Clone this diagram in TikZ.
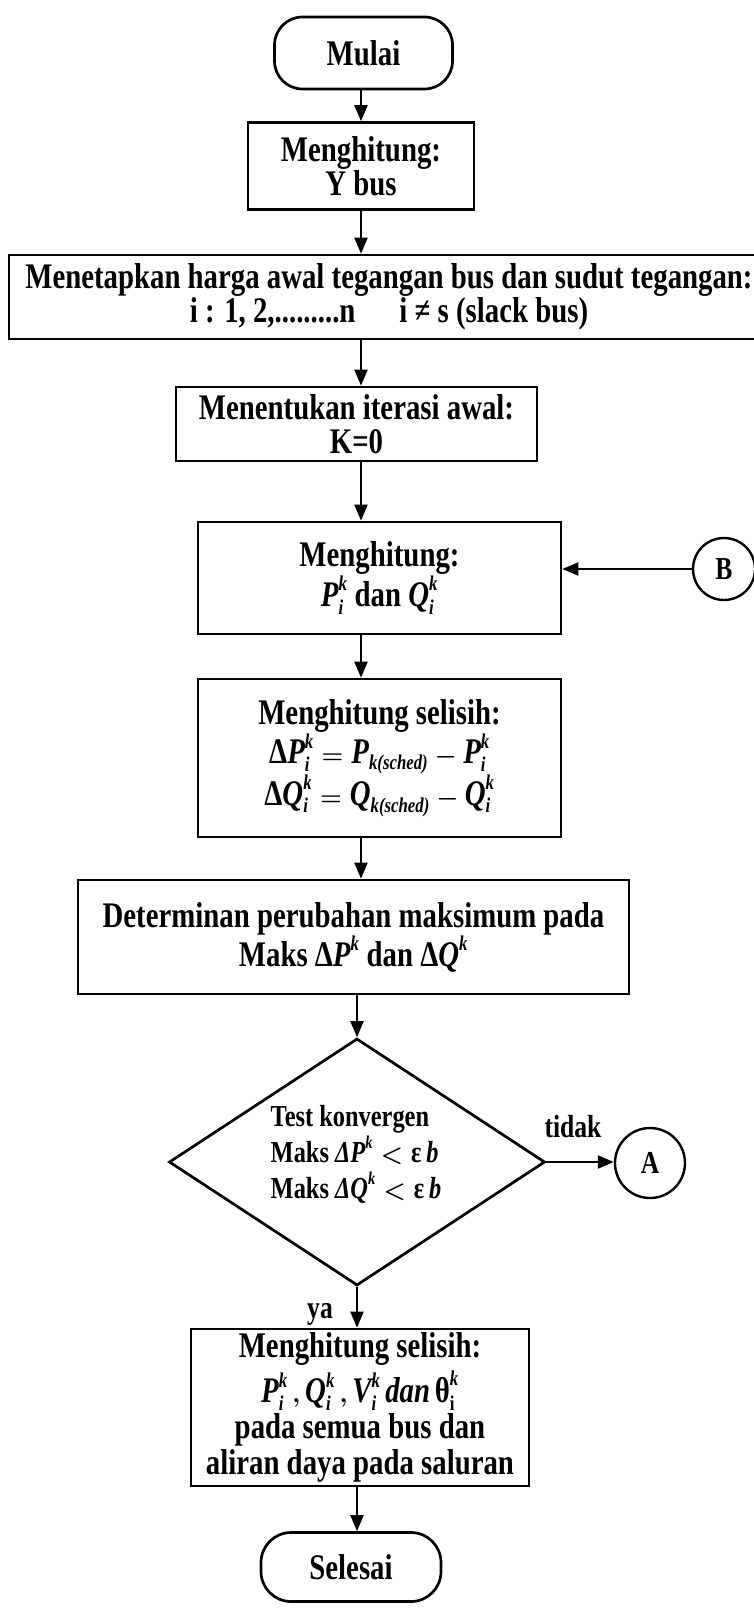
\documentclass[tikz,border=0pt]{standalone}
\usepackage{amsmath}
\usepackage{fontspec}
\setmainfont{Liberation Serif}[FakeStretch=0.80]
\usetikzlibrary{arrows.meta,shapes.geometric}
\DeclareMathSizes{36}{36}{21}{15}
\DeclareMathSizes{30.5}{30.5}{18}{13}
\newcommand\vr[3]{\textit{#1}_{\textit{#2}}^{\textit{#3}}}
\newcommand\mfont[1]{\fontsize{36}{#1}\selectfont\bfseries\boldmath}
\newcommand\decfnt{\fontsize{30.5}{36}\selectfont\bfseries\boldmath}
\newcommand\lblfnt{\fontsize{32}{32}\selectfont\bfseries}
\begin{document}
\begin{tikzpicture}[x=1pt,y=-1pt,
  box/.style={draw,line width=2.7pt,inner sep=0pt,align=center,font={\mfont{34}}},
  term/.style={box,rounded corners=28pt},
  circ/.style={draw,circle,line width=2.4pt,inner sep=0pt,font=\lblfnt},
  arr/.style={line width=2.2pt,-{Triangle[length=16pt,width=13pt]}}]
\useasboundingbox (0,0) rectangle (754,1613);
\coordinate (ax) at (361,0);
\coordinate (bx) at (357,0);
\node[term,minimum width=178pt,minimum height=72pt] (mulai) at (363.5,53) {Mulai};
\node[box,minimum width=226pt,minimum height=87pt] (ybus) at (361,166) {Menghitung:\\Y bus};
\node[box,minimum width=760pt,minimum height=84pt] (awal) at (389,297) {Menetapkan harga awal tegangan bus dan sudut tegangan:\\ i : 1, 2,.........n\hspace{44pt}i ≠ s (slack bus)};
\node[box,minimum width=361pt,minimum height=74pt] (iter) at (356.5,424) {Menentukan iterasi awal:\\K=0};
\node[box,font={\mfont{35}},minimum width=363pt,minimum height=112pt] (pq) at (379.5,578) {Menghitung:\\ $\vr Pik$ dan $\vr Qik$};
\node[box,font={\mfont{36}},minimum width=363pt,minimum height=158pt] (sel) at (379.5,758) {Menghitung selisih:\\ $\text{Δ}\vr Pik = \textit{P}_{\textit{k(sched)}} - \vr Pik$\\ $\text{Δ}\vr Qik = \textit{Q}_{\textit{k(sched)}} - \vr Qik$};
\node[box,font={\mfont{37}},minimum width=551pt,minimum height=114pt] (det) at (353.5,937) {Determinan perubahan maksimum pada\\ Maks $\text{Δ}\textit{P}^{\textit{k}}$ dan $\text{Δ}\textit{Q}^{\textit{k}}$};
\node[draw,diamond,aspect=1.5,inner sep=0pt,line width=2.7pt,minimum width=376pt,minimum height=247pt] (dec) at (357,1162) {};
\node[align=left,font=\decfnt] (dectext) at (356,1154) {Test konvergen\\ Maks $\textit{ΔP}^{\textit{k}} < \text{ε}\,\textit{b}$\\ Maks $\textit{ΔQ}^{\textit{k}} < \text{ε}\,\textit{b}$};
\node[box,font={\mfont{36}},minimum width=338pt,minimum height=157pt] (fin) at (360,1407.5) {Menghitung selisih:\\[5pt] $\vr Pik\,,\vr Qik\,,\vr Vik\,\textit{dan}\,\text{θ}_{\text{i}}^{\textit{k}}$\\ pada semua bus dan\\ aliran daya pada saluran};
\node[term,rounded corners=30pt,minimum width=180pt,minimum height=69pt] (selesai) at (351,1567) {Selesai};
\node[circ,minimum size=62pt] (B) at (724,569) {B};
\node[circ,minimum size=70pt] (A) at (650,1163) {A};
\node[font=\lblfnt] (tidak) at (573,1127) {tidak};
\node[font=\lblfnt] (ya) at (320,1314) {ya};
\draw[arr] (mulai.south -| ax) -- (ybus.north -| ax);
\draw[arr] (ybus.south -| ax) -- (awal.north -| ax);
\draw[arr] (awal.south -| ax) -- (iter.north -| ax);
\draw[arr] (iter.south -| ax) -- (pq.north -| ax);
\draw[arr] (pq.south -| ax) -- (sel.north -| ax);
\draw[arr] (sel.south -| ax) -- (det.north -| ax);
\draw[arr] (det.south -| dec.north) -- (dec.north);
\draw[arr] (dec.south) -- (dec.south |- fin.north);
\draw[arr] (fin.south -| bx) -- (selesai.north -| bx);
\draw[arr] (B.west) -- (B.west -| pq.east);
\draw[arr] (dec.east) -- (dec.east -| A.west);
\end{tikzpicture}
\end{document}
